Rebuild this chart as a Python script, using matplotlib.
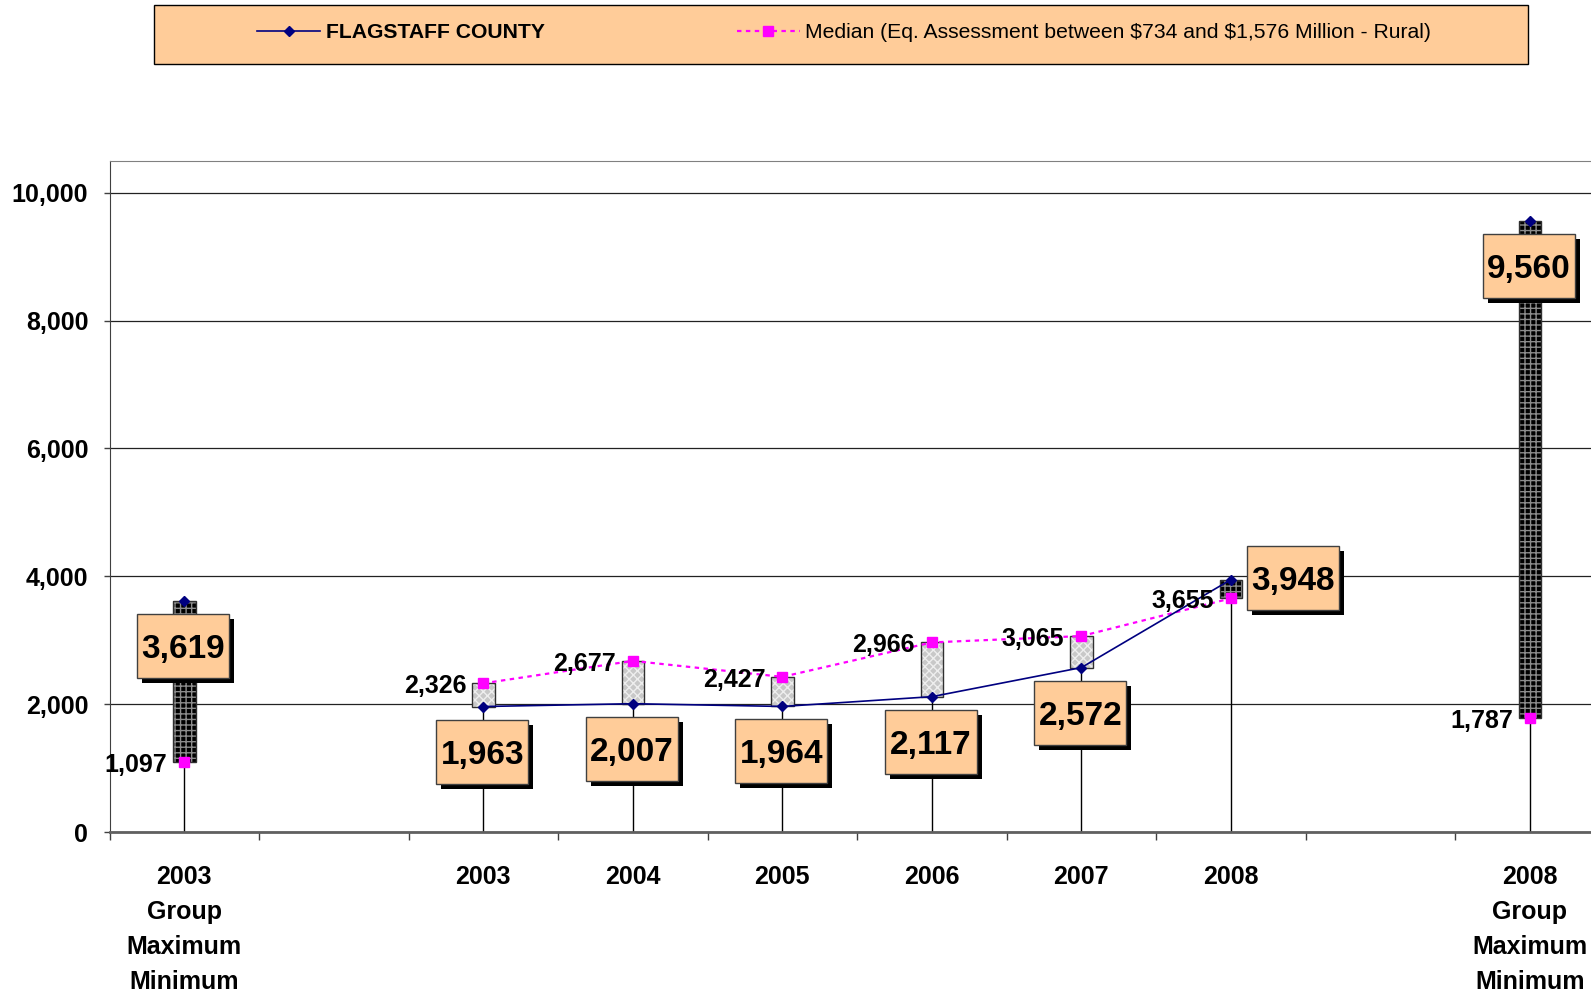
import numpy as np
import matplotlib
matplotlib.use('Agg')
import matplotlib.pyplot as plt
from matplotlib.patches import Rectangle
from matplotlib.lines import Line2D
import matplotlib.transforms as mtransforms

# ---------------- data ----------------
categories = ["2003\nGroup\nMaximum\nMinimum", "", "2003", "2004", "2005",
              "2006", "2007", "2008", "", "2008\nGroup\nMaximum\nMinimum"]
county = [3619, np.nan, 1963, 2007, 1964, 2117, 2572, 3948, np.nan, 9560]
median = [1097, np.nan, 2326, 2677, 2427, 2966, 3065, 3655, np.nan, 1787]
yticks = [0, 2000, 4000, 6000, 8000, 10000]
legend_labels = ["FLAGSTAFF COUNTY",
                 "Median (Eq. Assessment between \\$734 and \\$1,576 Million - Rural)"]

plt.rcParams['font.family'] = ['Liberation Sans', 'DejaVu Sans']
plt.rcParams['hatch.linewidth'] = 1.0

W, H = 1591, 992
fig = plt.figure(figsize=(W / 100, H / 100), dpi=100)
ax = fig.add_axes([109.6 / W, 1 - 832 / H, 1495 / W, 671.2 / H])

x = np.arange(len(categories))
c = np.array(county, float)
m = np.array(median, float)
valid = ~np.isnan(c)
lo = np.fmin(c, m)
hi = np.fmax(c, m)

PEACH = '#FFCC99'
NAVY = '#000080'
PINK = '#FF00FF'

# drop lines
ax.vlines(x[valid], 0, lo[valid], color='black', lw=1, zorder=2)

# up/down bars
for i in np.where(valid)[0]:
    if c[i] > m[i]:
        face, hatch, hcol = 'black', '+++', '#8c8c8c'
    else:
        face, hatch, hcol = '#c8c8c8', 'xxxx', '#eeeeee'
    ax.bar(x[i], hi[i] - lo[i], bottom=lo[i], width=0.15, color=face,
           edgecolor=hcol, hatch=hatch, linewidth=0, zorder=3)
    ax.bar(x[i], hi[i] - lo[i], bottom=lo[i], width=0.15, fill=False,
           edgecolor='#303030', linewidth=1, zorder=3.1)

# series lines
ax.plot(x, m, color=PINK, ls=(0, (2, 2)), lw=1.6, marker='s', ms=7,
        mec=PINK, mfc=PINK, zorder=4)
ax.plot(x, c, color=NAVY, lw=1.2, marker='D', ms=5.5, mec=NAVY, mfc=NAVY,
        zorder=4.5)

# boxed value labels for county
BW, BH, SH = 92, 64, 5
def boxed_label(xv, yv, text, dx, dy):
    base = mtransforms.IdentityTransform() + mtransforms.ScaledTranslation(xv, yv, ax.transData)
    ax.add_patch(Rectangle((dx - BW / 2 + SH, dy - BH / 2 - SH), BW, BH,
                           facecolor='black', edgecolor='none', transform=base,
                           zorder=5, clip_on=False))
    ax.add_patch(Rectangle((dx - BW / 2, dy - BH / 2), BW, BH,
                           facecolor=PEACH, edgecolor='#404040', lw=1,
                           transform=base, zorder=5.5, clip_on=False))
    fs = 24
    digit_h = 0.72 * fs * 100 / 72
    ax.text(dx, dy - digit_h / 2, text, transform=base, ha='center',
            va='baseline', fontsize=fs, fontweight='bold', zorder=6,
            clip_on=False)

for i in np.where(valid)[0]:
    if i == 7:
        boxed_label(x[i], c[i], f"{int(c[i]):,}", 62, 2)
    else:
        boxed_label(x[i], c[i], f"{int(c[i]):,}", -1, -45)

# median labels
for i in np.where(valid)[0]:
    ax.annotate(f"{int(m[i]):,}", (x[i], m[i]), xytext=(-17, -3),
                textcoords='offset pixels', ha='right', va='center',
                fontsize=18, fontweight='bold', zorder=6)

# axes formatting
ax.set_xlim(-0.5, len(categories) - 0.5)
ax.set_ylim(0, 10500)
ax.set_yticks(yticks)
ax.set_yticklabels([f"{v:,}" for v in yticks], fontsize=18, fontweight='bold')
ax.yaxis.grid(True, color='#222222', lw=0.9)
ax.set_axisbelow(True)
ax.tick_params(axis='y', length=4.3, width=1, pad=11, color='#404040')

ax.set_xticks(x)
ax.set_xticklabels(categories, fontsize=18, fontweight='bold', linespacing=1.58)
ax.set_xticks(np.arange(-0.5, len(categories), 1), minor=True)
ax.tick_params(axis='x', which='major', length=0, pad=23.4)
ax.tick_params(axis='x', which='minor', length=6, width=1, color='#404040',
               direction='out')

ax.spines['left'].set_color('#404040')
ax.spines['top'].set_color('#808080')
ax.spines['bottom'].set_color('#606060')
ax.spines['bottom'].set_linewidth(2)
ax.spines['right'].set_visible(False)

# legend box
fig.patches.append(Rectangle((154 / W, 1 - 64 / H), (1528 - 154) / W, 59 / H,
                             transform=fig.transFigure, facecolor=PEACH,
                             edgecolor='black', lw=1, zorder=1))
handles = [Line2D([], [], color=NAVY, lw=1.2, marker='D', ms=5.5),
           Line2D([], [], color=PINK, ls=(0, (2, 2)), lw=1.6, marker='s', ms=7)]
leg = fig.legend(handles, legend_labels, loc='center left',
                 bbox_to_anchor=(257 / W, 1 - 33 / H), ncol=2, frameon=False,
                 fontsize=15.2, handlelength=3.0, handletextpad=0.25,
                 columnspacing=9.1, borderpad=0, borderaxespad=0, numpoints=1)
leg.get_texts()[0].set_fontweight('bold')

fig.savefig('out.png', dpi=100)
